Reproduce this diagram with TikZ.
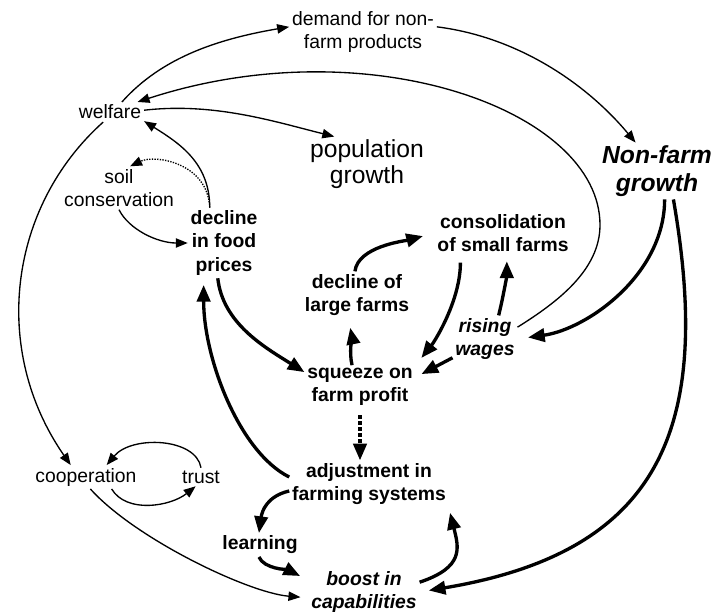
\documentclass[tikz,border=0pt]{standalone}
\usepackage{fontspec}
\setmainfont{Liberation Sans}
\usetikzlibrary{arrows.meta}

\tikzset{
  lbl/.style={align=center, inner sep=2pt, font=\fontsize{14.5}{17.5}\selectfont},
  blbl/.style={lbl, font=\fontsize{14.5}{17.5}\selectfont\bfseries},
  ilbl/.style={lbl, font=\fontsize{14.5}{17.5}\selectfont\bfseries\itshape},
  biglbl/.style={lbl, font=\fontsize{18.5}{19.5}\selectfont},
  bigilbl/.style={lbl, font=\fontsize{18.5}{21}\selectfont\bfseries\itshape},
  thinarr/.style={line width=1pt, -{Triangle[length=9pt,width=7pt]}},
  thickarr/.style={line width=2.5pt, -{Triangle[length=12.5pt,width=10pt]}}
}

\begin{document}
\begin{tikzpicture}[x=0.75pt, y=-0.75pt]
 \useasboundingbox (0,0) rectangle (715,614);

 \node[lbl] (demand) at (363,32) {demand for non-\\farm products};
 \node[lbl] (welfare) at (110,112) {welfare};
 \node[biglbl] (pop) at (367,164) {population\\growth};
 \node[bigilbl] (nonfarm) at (657,171) {Non-farm\\growth};
 \node[lbl] (soil) at (119,188) {soil\\conservation};
 \node[blbl] (food) at (224,243) {decline\\in food\\prices};
 \node[blbl] (consol) at (503,233) {consolidation\\of small farms};
 \node[blbl] (large) at (357,295) {decline of\\large farms};
 \node[ilbl] (wages) at (485,339) {rising\\wages};
 \node[blbl] (squeeze) at (360,387) {squeeze on\\farm profit};
 \node[blbl] (adjust) at (369,484) {adjustment in\\farming systems};
 \node[blbl] (learning) at (260,545) {learning};
 \node[ilbl] (boost) at (364,592) {boost in\\capabilities};
 \node[lbl] (coop) at (86,477) {cooperation};
 \node[lbl] (trust) at (201,477) {trust};

 \draw[thinarr] (welfare.40) .. controls +(40,-45) and +(-70,12) .. (demand.176);
 \draw[thinarr] (demand.4) .. controls +(80,10) and +(-50,-60) .. (nonfarm.127);
 \draw[thinarr] (wages.20) .. controls +(40,-25) and +(0,45) .. (600,225)
   .. controls +(0,-115) and +(230,-75) .. (welfare.20);
 \draw[thinarr] (welfare.3) .. controls +(70,-8) and +(-60,-15) .. (pop.140);
 \draw[thinarr] (welfare.-124) .. controls +(-95,85) and +(-80,-115) .. (coop.142);
 \draw[thinarr] (food.112) .. controls +(0,-45) and +(35,22) .. (welfare.-15);
 \draw[thinarr, densely dotted] (food.112) .. controls +(-2,-45) and +(25,-12) .. (soil.63);
 \draw[thinarr] (soil.south) .. controls +(10,20) and +(-30,0) .. (food.west);
 \draw[thinarr] (trust.north) .. controls +(-5,-30) and +(25,-30) .. (coop.30);
 \draw[thinarr] (coop.-25) .. controls +(15,25) and +(-25,20) .. (trust.-120);
 \draw[thinarr, shorten >=6pt] (coop.-70) .. controls +(45,50) and +(-60,-5) .. (boost.-174);

 \draw[thickarr] (food.-100) .. controls +(5,45) and +(-40,-25) .. (squeeze.165);
 \draw[thickarr, shorten >=5pt] (adjust.175) .. controls +(-50,-25) and +(0,80) .. (food.-120);
 \draw[thickarr, shorten >=9pt] (large.95) .. controls +(3,-25) and +(-30,8) .. (consol.west);
 \draw[thickarr, shorten >=7pt] (squeeze.110) .. controls +(-3,-12) and +(3,15) .. (large.-110);
 \draw[thickarr, shorten <=6pt, shorten >=7pt] (consol.-153) .. controls +(0,45) and +(20,-25) .. (squeeze.north east);
 \draw[thickarr, shorten >=5pt] (wages.60) .. controls +(5,-20) and +(0,20) .. (consol.-80);
 \draw[thickarr, shorten >=5pt] (wages.-150) -- (squeeze.10);
 \draw[thickarr, shorten >=8pt] (nonfarm.-75) .. controls +(0,75) and +(70,-10) .. (wages.east);
 \draw[thickarr, shorten >=7pt] (nonfarm.-60) .. controls +(40,230) and +(240,-40) .. (boost.east);
 \draw[thickarr, dash pattern=on 2.5pt off 2pt, shorten <=5pt] (squeeze.south) -- (squeeze.south |- adjust.north);
 \draw[thickarr] (adjust.-175) .. controls +(-22,5) and +(3,-22) .. (learning.95);
 \draw[thickarr, shorten >=7pt] (learning.-95) .. controls +(5,12) and +(-20,-10) .. (boost.168);
 \draw[thickarr, shorten >=4pt] (boost.10) .. controls +(45,-15) and +(10,40) .. (adjust.south east);
\end{tikzpicture}
\end{document}
